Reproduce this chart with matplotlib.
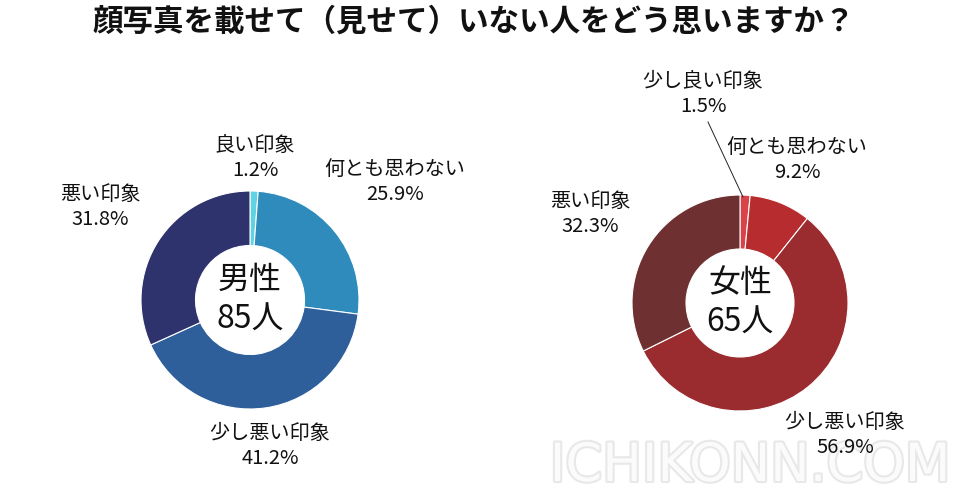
import matplotlib

matplotlib.use("Agg")
import matplotlib.pyplot as plt
from matplotlib import patheffects

plt.rcParams["font.family"] = ["Noto Sans CJK JP", "DejaVu Sans"]

title = "顔写真を載せて（見せて）いない人をどう思いますか？"

male_labels = ["良い印象", "何とも思わない", "少し悪い印象", "悪い印象"]
male_values = [1.2, 25.9, 41.2, 31.8]
male_colors = ["#5fd3e4", "#2f8bbb", "#2e5f9b", "#2e336d"]
male_center = "男性\n85人"

female_labels = ["少し良い印象", "何とも思わない", "少し悪い印象", "悪い印象"]
female_values = [1.5, 9.2, 56.9, 32.3]
female_colors = ["#d8444a", "#b72c2f", "#9a2b2f", "#6e3031"]
female_center = "女性\n65人"

H = 504


def draw_donut(ax, values, colors, labels, cx, cy, r, label_pos, center_text):
    ax.pie(
        values,
        colors=colors,
        startangle=90,
        counterclock=False,
        center=(cx, H - cy),
        radius=r,
        frame=True,
        wedgeprops=dict(width=r * 0.5, edgecolor="white", linewidth=0.8),
    )
    ax.text(cx, H - cy, center_text, ha="center", va="center", fontsize=23,
            linespacing=1.3, color="#111111", zorder=5)
    for label, value, (lx, ly) in zip(labels, values, label_pos):
        ax.text(lx, H - ly, f"{label}\n{value:.1f}%", ha="center", va="center",
                fontsize=14.5, linespacing=1.2, color="#111111", zorder=5)


fig = plt.figure(figsize=(9.6, 5.04), dpi=100)
ax = fig.add_axes([0, 0, 1, 1])

fig.text(0.493, 1 - 22 / H, title, ha="center", va="center", fontsize=22,
         fontweight="bold", color="#111111")

draw_donut(ax, male_values, male_colors, male_labels, 250, 300, 109,
           [(255, 158), (395, 182), (270, 446), (100, 207)], male_center)
draw_donut(ax, female_values, female_colors, female_labels, 740, 303, 108,
           [(703, 94), (797, 160), (845, 435), (590, 214)], female_center)

# leader line for the small female slice
ax.plot([708, 743], [H - 122, H - 197], color="#222222", linewidth=0.7)

ax.text(750, H - 466, "ICHIKONN.COM", ha="center", va="center", fontsize=38,
        color="#fbfbfb", family="DejaVu Sans", zorder=1,
        path_effects=[patheffects.withStroke(linewidth=3, foreground="#e8e8e8")])

ax.set_xlim(0, 960)
ax.set_ylim(0, H)
ax.set_aspect("equal")
ax.axis("off")

fig.savefig("out.png", dpi=100)
plt.close(fig)
